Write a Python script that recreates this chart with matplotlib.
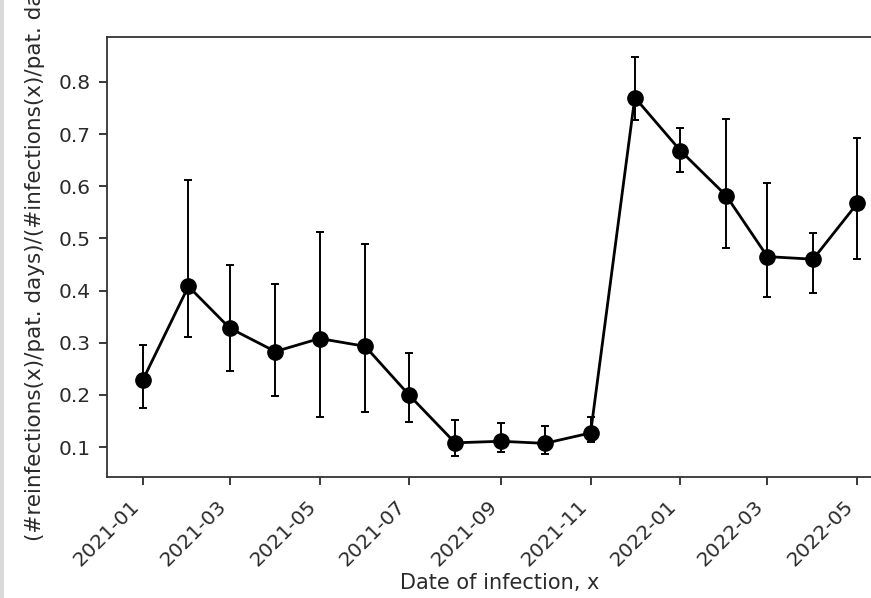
import matplotlib
matplotlib.use("Agg")
import matplotlib.pyplot as plt
import matplotlib.dates as mdates
import numpy as np
import pandas as pd
from matplotlib.patches import Rectangle

# monthly values
months = ["2021-01", "2021-02", "2021-03", "2021-04", "2021-05", "2021-06",
          "2021-07", "2021-08", "2021-09", "2021-10", "2021-11", "2021-12",
          "2022-01", "2022-02", "2022-03", "2022-04", "2022-05"]
ratio = [0.228, 0.408, 0.328, 0.283, 0.308, 0.293, 0.199, 0.108, 0.111,
         0.107, 0.127, 0.770, 0.668, 0.582, 0.465, 0.460, 0.567]
ci_low = [0.175, 0.310, 0.245, 0.197, 0.157, 0.167, 0.148, 0.083, 0.090,
          0.087, 0.110, 0.727, 0.627, 0.482, 0.388, 0.396, 0.460]
ci_high = [0.295, 0.612, 0.448, 0.412, 0.513, 0.490, 0.281, 0.152, 0.146,
           0.140, 0.158, 0.847, 0.712, 0.729, 0.607, 0.510, 0.693]

x = pd.to_datetime(months)
y = np.array(ratio)
yerr = np.array([y - np.array(ci_low), np.array(ci_high) - y])

fig = plt.figure(figsize=(8.71, 5.98), dpi=100)
# the source image is cropped: right spine lies beyond the canvas
ax = fig.add_axes([107 / 871, 1 - 477 / 598, 786 / 871, 440 / 598])

ax.errorbar(x, y, yerr=yerr, color="black", marker="o", markersize=11,
            linewidth=2, elinewidth=1.4, capsize=3, capthick=1.4)

ax.set_ylim(0.0425, 0.886)
ax.set_yticks([0.1, 0.2, 0.3, 0.4, 0.5, 0.6, 0.7, 0.8])
ax.xaxis.set_major_locator(mdates.MonthLocator(bymonth=[1, 3, 5, 7, 9, 11]))
ax.xaxis.set_major_formatter(mdates.DateFormatter("%Y-%m"))

for lab in ax.get_xticklabels():
    lab.set_rotation(45)
    lab.set_ha("right")

ax.tick_params(labelsize=14.5, colors="#2a2a2a", width=1.3, length=5.5)
ax.tick_params(axis="y", pad=6)
ax.tick_params(axis="x", pad=9)
for sp in ax.spines.values():
    sp.set_linewidth(1.3)
    sp.set_color("#333333")
ax.spines["right"].set_visible(False)

ax.set_xlabel("Date of infection, x", fontsize=15, color="#2a2a2a", labelpad=2)
# label runs past the top edge, as in the cropped source
ax.set_ylabel("(#reinfections(x)/pat. days)/(#infections(x)/pat. days)",
              fontsize=15.5, color="#2a2a2a")
ax.yaxis.set_label_coords(-0.079, 0.515)

# light grey strip along the left edge of the screenshot
fig.patches.append(Rectangle((0, 0), 4 / 871, 1, transform=fig.transFigure,
                             facecolor="#d9d9d9", edgecolor="none"))

fig.savefig("out.png", dpi=100)
